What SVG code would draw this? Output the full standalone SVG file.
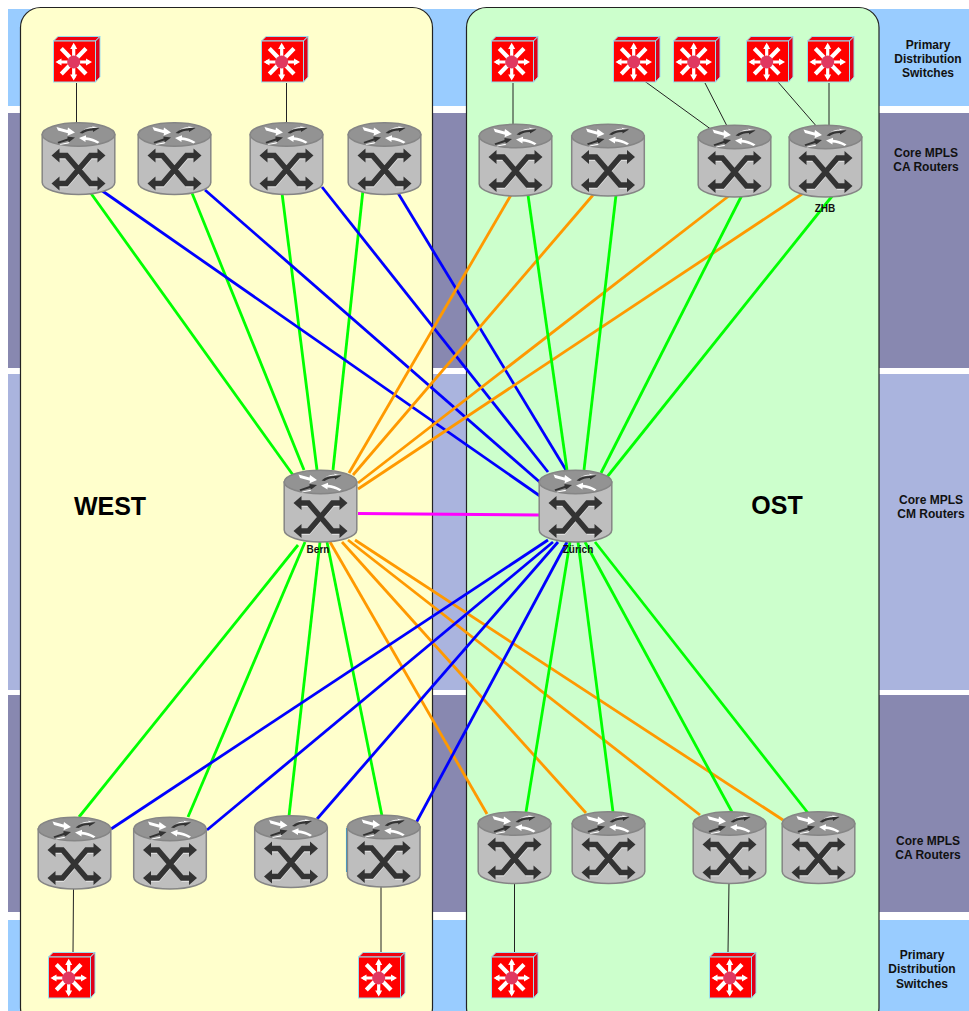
<svg xmlns="http://www.w3.org/2000/svg" xmlns:xlink="http://www.w3.org/1999/xlink" width="969" height="1011" viewBox="0 0 969 1011">
<style>
text{font-family:"Liberation Sans",Arial,sans-serif;font-weight:bold;text-anchor:middle;fill:#111}
.band{font-size:12px}.tag{font-size:10px}.area{font-size:25px;fill:#000}
.panel{stroke:#222;stroke-width:1.2}
#connectors line{fill:none}
.g{stroke:#00ff00;stroke-width:2.8}.b{stroke:#0000ff;stroke-width:2.8}.o{stroke:#ff9900;stroke-width:2.8}.m{stroke:#ff00ff;stroke-width:2.8}.k{stroke:#222;stroke-width:1}
</style>
<defs>
<g id="router">
<path d="M0.7,12V60A36.3,12 0 0 0 73.3,60V12Z" fill="#bebebe" stroke="#858585" stroke-width="1.5"/>
<ellipse cx="37" cy="12" rx="36.3" ry="11.7" fill="#939393" stroke="#858585" stroke-width="1.5"/>
<path d="M15,4.500 26,7.500 26.500,5 33.500,10 26,13.300 26.500,10.800 16.500,8Z" fill="#fff"/>
<path d="M38,10.500C42,7 46,6 51,6L50.500,4 58,5.500 51.500,9.500 51.500,8C47,8 44,9 41,11Z" fill="#333"/>
<path d="M42,7C45,5.200 48,4.700 51,4.700L50.500,3.700 57,5 52,5.500C48,5.500 45,6 42,7Z" fill="#fff"/>
<path d="M16,19.500 26,16 26,14 33.500,15 27,20 27,18 17,21Z" fill="#333"/>
<path d="M19,21.500 28,19.500 27,21 18,22.500Z" fill="#fff"/>
<path d="M37.500,15.500 44.500,12.800 44.500,14.800C49,15 54,17 58,19.500L56,21C52,19 47,17.500 44,17.500L44,19.500Z" fill="#fff"/>
<path d="M16,34.500H26L50,62.500H59M58,34.500H49L25,62.500H16" fill="none" stroke="#f4f4f4" stroke-width="5" opacity=".6"/>
<path d="M15,33H25L49,61H59M59,33H49L25,61H15" fill="none" stroke="#333" stroke-width="5.500"/>
<path d="M10,33 18,26V40ZM64,33 56,26V40ZM10,61 18,54V68ZM64,61 56,54V68Z" fill="#333"/>
</g>
<g id="switch">
<path d="M0.500,5 5,0.500H47L42.500,5Z" fill="#f00010" stroke="#99ddee"/>
<path d="M42.500,5 47,0.500V41L42.500,46Z" fill="#e00018" stroke="#99ddee"/>
<rect x="0.500" y="5" width="42" height="41" fill="#ff0000" stroke="#99ddee"/>
<path d="M20.700,9.500V42M5,26H36" stroke="#fff" stroke-width="3.200" fill="none"/>
<path d="M8.300,12.500 33,38M33,12.500 8.300,38" stroke="#fff" stroke-width="4.200" fill="none"/>
<path d="M20.700,6.800 17.200,13H24.200ZM20.700,44.600 17.200,38.500H24.200ZM2.500,26 8.500,22.500V29.500ZM39,26 33,22.500V29.500Z" fill="#fff"/>
<circle cx="20.700" cy="26" r="6.500" fill="#e03860"/>
</g>
</defs>
<g id="bands">
<rect x="8" y="9" width="961" height="97" fill="#99ccff"/>
<rect x="8" y="113" width="961" height="255" fill="#8888b0"/>
<rect x="8" y="374" width="961" height="316" fill="#aab4de"/>
<rect x="8" y="695" width="961" height="217" fill="#8888b0"/>
<rect x="8" y="920" width="961" height="91" fill="#99ccff"/>
</g>
<g id="panel-west"><rect class="panel" x="20.500" y="7.500" width="412" height="1020" rx="20" fill="#ffffcc"/><text class="area" x="110" y="515">WEST</text></g>
<g id="panel-ost"><rect class="panel" x="466.500" y="7.500" width="412.500" height="1020" rx="20" fill="#ccffcc"/><text class="area" x="777" y="514">OST</text></g>
<g id="band-labels">
<text class="band" x="928" y="49">Primary</text><text class="band" x="928" y="63">Distribution</text><text class="band" x="928" y="77">Switches</text>
<text class="band" x="926" y="157">Core MPLS</text><text class="band" x="926" y="171">CA Routers</text>
<text class="band" x="931" y="504">Core MPLS</text><text class="band" x="931" y="518">CM Routers</text>
<text class="band" x="928" y="845">Core MPLS</text><text class="band" x="928" y="859">CA Routers</text>
<text class="band" x="922" y="959">Primary</text><text class="band" x="922" y="973">Distribution</text><text class="band" x="922" y="988">Switches</text>
</g>
<g id="connectors">
<line class="k" x1="76.500" y1="83" x2="76.500" y2="125"/><line class="k" x1="286.500" y1="83" x2="286.500" y2="125"/><line class="k" x1="513" y1="83" x2="513" y2="126"/>
<line class="k" x1="643" y1="80" x2="712" y2="130"/><line class="k" x1="705" y1="83" x2="728" y2="128"/><line class="k" x1="778" y1="82" x2="818" y2="128"/><line class="k" x1="829" y1="83" x2="829" y2="127"/>
<line class="k" x1="73.500" y1="888" x2="73" y2="952"/><line class="k" x1="381" y1="885" x2="381" y2="952"/><line class="k" x1="514.500" y1="882" x2="514.500" y2="952"/><line class="k" x1="729" y1="882" x2="728" y2="952"/>
<line class="g" x1="90" y1="192" x2="293" y2="475"/><line class="g" x1="192" y1="193" x2="304" y2="470"/><line class="g" x1="282" y1="193" x2="317" y2="470"/><line class="g" x1="363" y1="190" x2="333" y2="470"/>
<line class="b" x1="101" y1="190" x2="540" y2="496"/><line class="b" x1="205" y1="190" x2="542" y2="484"/><line class="b" x1="322" y1="187" x2="548" y2="472"/><line class="b" x1="398" y1="193" x2="566" y2="470"/>
<line class="o" x1="511" y1="195" x2="349" y2="473"/><line class="o" x1="593" y1="195" x2="353" y2="475"/><line class="o" x1="730" y1="195" x2="358" y2="483"/><line class="o" x1="805" y1="192" x2="358" y2="489"/>
<line class="g" x1="528" y1="195" x2="567" y2="470"/><line class="g" x1="616" y1="195" x2="584" y2="470"/><line class="g" x1="742" y1="195" x2="601" y2="473"/><line class="g" x1="833" y1="195" x2="607" y2="477"/>
<line class="m" x1="358" y1="513.500" x2="539" y2="515"/>
<line class="g" x1="298" y1="545" x2="79" y2="817"/><line class="g" x1="305" y1="542" x2="188" y2="817"/><line class="g" x1="320" y1="542" x2="289" y2="816"/><line class="g" x1="327" y1="542" x2="382" y2="816"/>
<line class="o" x1="330" y1="542" x2="487" y2="814"/><line class="o" x1="342" y1="542" x2="586" y2="813"/><line class="o" x1="348" y1="540" x2="700" y2="815"/><line class="o" x1="355" y1="540" x2="783" y2="820"/>
<line class="b" x1="548" y1="540" x2="111" y2="829"/><line class="b" x1="553" y1="542" x2="207" y2="830"/><line class="b" x1="558" y1="542" x2="317" y2="819"/><line class="b" x1="567" y1="542" x2="416" y2="823"/>
<line class="g" x1="570" y1="542" x2="526" y2="812"/><line class="g" x1="578" y1="542" x2="613" y2="812"/><line class="g" x1="585" y1="542" x2="732" y2="812"/><line class="g" x1="595" y1="542" x2="808" y2="813"/>
</g>
<g id="sw1"><use xlink:href="#switch" x="53" y="36"/></g>
<g id="sw2"><use xlink:href="#switch" x="261" y="36"/></g>
<g id="sw3"><use xlink:href="#switch" x="491" y="36"/></g>
<g id="sw4"><use xlink:href="#switch" x="613" y="36"/></g>
<g id="sw5"><use xlink:href="#switch" x="673" y="36"/></g>
<g id="sw6"><use xlink:href="#switch" x="746" y="36"/></g>
<g id="sw7"><use xlink:href="#switch" x="807" y="36"/></g>
<g id="sw8"><use xlink:href="#switch" x="48" y="952"/></g>
<g id="sw9"><use xlink:href="#switch" x="358" y="952"/></g>
<g id="sw10"><use xlink:href="#switch" x="491" y="952"/></g>
<g id="sw11"><use xlink:href="#switch" x="709" y="952"/></g>
<g id="ca1"><use xlink:href="#router" x="41.500" y="122.500"/></g>
<g id="ca2"><use xlink:href="#router" x="137.500" y="122.500"/></g>
<g id="ca3"><use xlink:href="#router" x="249.500" y="122.500"/></g>
<g id="ca4"><use xlink:href="#router" x="347.500" y="122.500"/></g>
<g id="ca5"><use xlink:href="#router" x="478.500" y="124"/></g>
<g id="ca6"><use xlink:href="#router" x="571" y="124"/></g>
<g id="ca7"><use xlink:href="#router" x="697.500" y="125"/></g>
<g id="ca8"><use xlink:href="#router" x="788.500" y="125"/><text class="tag" x="825" y="212">ZHB</text></g>
<g id="bern"><use xlink:href="#router" x="283.500" y="470"/><text class="tag" x="318" y="553">Bern</text></g>
<g id="zurich"><use xlink:href="#router" x="538.500" y="470"/><text class="tag" x="578" y="553">Zürich</text></g>
<g id="ca9"><use xlink:href="#router" x="37.500" y="817"/></g>
<g id="ca10"><use xlink:href="#router" x="133" y="817"/></g>
<g id="ca11"><use xlink:href="#router" x="254" y="815.500"/></g>
<g id="ca12"><path d="M346.700,828V872" stroke="#2f9fd8" stroke-width="1.500"/><use xlink:href="#router" x="346.700" y="815"/></g>
<g id="ca13"><use xlink:href="#router" x="477.500" y="811.500"/></g>
<g id="ca14"><use xlink:href="#router" x="571.500" y="811.500"/></g>
<g id="ca15"><use xlink:href="#router" x="692.500" y="811.500"/></g>
<g id="ca16"><use xlink:href="#router" x="781.500" y="811.500"/></g>
</svg>
